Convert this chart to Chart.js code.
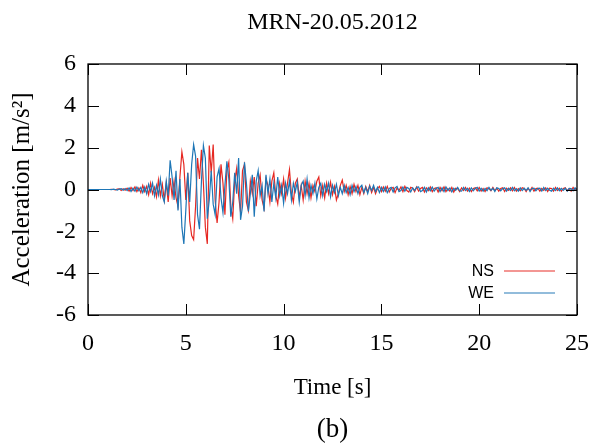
<!DOCTYPE html>
<html lang="en">
<head>
    <meta charset="UTF-8">
    <title>MRN-20.05.2012</title>
    <script src="https://cdn.jsdelivr.net/npm/chart.js"></script>
    <style>
        html, body { margin: 0; padding: 0; background: #fff; }
        #wrap { width: 592px; height: 446px; }
    </style>
</head>
<body>
    <div id="wrap"><canvas id="accChart" width="592" height="446"></canvas></div>

    <script>
    // sampling interval of the digitised records [s]
    const dt = 0.1;

    // NS component [m/s2], t = 0.0 ... 25.0 s
    const nsAcc = [
        0, 0, 0, 0, 0, 0, 0, 0, 0, 0,
        0, 0, 0.01, 0, -0.02, 0.02, 0.03, -0.05, 0.04, -0.03,
        0.06, -0.08, 0.1, -0.05, 0.12, -0.1, 0.08, -0.15, 0.2, -0.1,
        0.15, -0.25, 0.3, -0.2, 0.1, -0.35, 0.45, -0.3, 0.25, -0.5,
        0.3, -0.6, 0.55, -0.3, 0.4, -0.4, -0.8, 0.6, 1.8, 1.2,
        -0.5, 0.8, -1.5, -2.2, -2.4, -0.8, 1.5, 0.5, 1.9, 0.3,
        -1.8, -2.6, 2.1, 0.8, 2.15, -0.5, -1.6, -0.6, 1.2, 0.3,
        -1.2, 0.9, 1.3, -0.8, -1.4, 0.4, 1.0, -0.3, -1.1, 0.9,
        1.2, -0.6, -1.0, 0.4, -0.2, 0.6, -0.8, 0.3, 0.7, -0.5,
        -0.9, 0.5, 0.2, -0.6, 0.4, 0.8, -0.3, -0.7, 0.3, -0.2,
        0.5, -0.4, 0.3, 0.95, -0.2, -0.6, 0.3, 0.5, -0.4, 0.2,
        -0.5, 0.4, -0.2, 0.3, -0.4, 0.2, -0.1, 0.4, 0.6, -0.3,
        0.2, -0.4, 0.3, -0.2, 0.35, -0.25, 0.15, -0.5, -0.2, 0.2,
        0.45, -0.1, 0.2, -0.25, 0.15, -0.2, 0.25, -0.1, 0.2, -0.25,
        0.1, -0.2, 0.15, -0.1, 0.2, -0.15, 0.1, -0.2, 0.05, 0.15,
        -0.1,
        0.12, -0.08, 0.15, -0.12, 0.05, 0.1, -0.15, 0.08, -0.05, 0.12,
        -0.1, 0.15, -0.05, -0.12, 0.1, 0.06, -0.1, 0.12, -0.08, 0.05,
        0.1, -0.12, 0.08, -0.05, 0.12, -0.1, 0.05, 0.08, -0.12, 0.1,
        -0.06, 0.12, -0.1, 0.05, -0.08, 0.1, -0.12, 0.06, 0.04, -0.1,
        0.08, -0.05, 0.1, -0.08, 0.06, -0.1, 0.05, 0.08, -0.06, 0.1,
        -0.08, 0.05, -0.1, 0.08, 0.04, -0.06, 0.1, -0.05, 0.06, -0.08,
        0.05, 0.08, -0.1, 0.06, -0.04, 0.08, -0.06, 0.1, -0.08, 0.04,
        -0.06, 0.08, 0.05, -0.1, 0.06, -0.05, 0.1, -0.08, 0.04, 0.06,
        -0.08, 0.05, -0.04, 0.08, -0.1, 0.06, 0.05, -0.08, 0.1, -0.05,
        0.06, -0.08, 0.05, 0.08, -0.06, 0.04, -0.08, 0.1, -0.04, 0.05
    ];

    // WE component [m/s2], t = 0.0 ... 25.0 s
    const weAcc = [
        0, 0, 0, 0, 0, 0, 0, 0, 0, 0,
        0, 0, -0.01, 0.02, 0, -0.03, 0.02, 0.04, -0.03, 0.05,
        -0.05, 0.08, -0.1, 0.06, -0.08, 0.12, -0.06, 0.1, -0.15, 0.12,
        -0.2, 0.25, -0.1, 0.3, -0.3, 0.2, -0.25, 0.5, -0.3, -0.6,
        0.4, -0.3, 1.4, 0.6, -0.5, 0.9, -1.0, 0.5, -1.8, -2.6,
        -1.0, 0.8, -0.6, 1.2, 2.15, 1.6, -1.2, -1.9, 0.4, 2.1,
        1.5, -1.4, -0.5, 0.9, -0.7, -1.2, 0.6, 1.0, -0.4, -1.1,
        0.2, 1.35, 0.5, -1.3, -0.6, 0.8, -0.2, 1.5, -1.45, -0.8,
        1.3, 0.3, -1.05, -0.2, 0.7, -1.3, 0.4, 0.9, -0.3, 0.2,
        -1.05, 0.7, -0.2, 0.5, -0.6, 0.3, -0.4, 0.6, -0.3, 0.2,
        -0.65, 0.3, -0.2, 0.4, -0.5, 0.3, -0.1, 0.35, -0.6, 0.2,
        0.4, -0.3, 0.5, -0.4, 0.2, -0.2, 0.3, -0.45, 0.1, 0.3,
        -0.3, 0.25, -0.1, 0.3, -0.35, 0.2, -0.15, 0.25, -0.3, 0.1,
        -0.2, 0.2, -0.15, 0.1, -0.25, 0.2, -0.1, 0.15, -0.2, 0.1,
        0.2, -0.15, 0.1, -0.2, 0.15, -0.05, 0.2, -0.1, 0.1, -0.15,
        0.1,
        -0.1, 0.12, -0.15, 0.05, 0.1, -0.12, 0.08, 0.15, -0.1, -0.05,
        0.12, -0.08, 0.1, 0.05, -0.12, 0.08, -0.05, 0.1, 0.12, -0.1,
        -0.05, 0.1, -0.12, 0.08, -0.06, 0.12, -0.08, 0.05, 0.1, -0.1,
        0.08, -0.1, 0.12, -0.05, 0.08, -0.12, 0.06, -0.04, 0.1, -0.06,
        -0.08, 0.1, -0.05, 0.06, -0.1, 0.08, -0.06, 0.05, 0.1, -0.08,
        0.06, -0.08, 0.05, -0.06, 0.1, -0.04, 0.06, -0.1, 0.08, 0.05,
        -0.06, 0.04, 0.08, -0.08, 0.06, -0.05, 0.1, -0.06, 0.04, -0.08,
        0.08, -0.05, 0.06, -0.04, 0.08, -0.1, 0.05, 0.06, -0.06, 0.04,
        0.06, -0.08, 0.1, -0.05, 0.06, -0.04, -0.08, 0.06, -0.05, 0.08,
        -0.06, 0.05, -0.04, 0.06, -0.08, 0.05, 0.04, -0.06, 0.08, -0.04
    ];

    const xTicks = [0, 5, 10, 15, 20, 25];
    const yTicks = [-6, -4, -2, 0, 2, 4, 6];

    const nsColor = 'rgb(230,40,34)';
    const weColor = 'rgb(30,118,182)';
    const serif = '"Liberation Serif", "Times New Roman", serif';
    const toPoints = arr => arr.map((v, i) => ({ x: Math.round(i * dt * 10) / 10, y: v }));

    // gnuplot-like frame with inward ticks + legend inside the plot
    const framePlugin = {
        id: 'frame',
        afterLayout(chart) {
            // centre title and caption over the plot area, not the canvas
            const a = chart.chartArea;
            chart.boxes.forEach(b => {
                if (!b.axis && b.options && b.options.text && (b.position === 'top' || b.position === 'bottom')) {
                    b.left = a.left;
                    b.right = a.right;
                }
            });
        },
        afterDraw(chart) {
            const { ctx, chartArea: a, scales } = chart;
            const tl = 11;
            ctx.save();
            ctx.strokeStyle = '#000';
            ctx.lineWidth = 1.3;
            ctx.strokeRect(a.left, a.top, a.right - a.left, a.bottom - a.top);
            ctx.lineWidth = 1;
            ctx.beginPath();
            xTicks.forEach(v => {
                const px = Math.round(scales.x.getPixelForValue(v)) + 0.5;
                ctx.moveTo(px, a.bottom); ctx.lineTo(px, a.bottom - tl);
                ctx.moveTo(px, a.top); ctx.lineTo(px, a.top + tl);
            });
            yTicks.forEach(v => {
                const py = Math.round(scales.y.getPixelForValue(v)) + 0.5;
                ctx.moveTo(a.left, py); ctx.lineTo(a.left + tl, py);
                ctx.moveTo(a.right, py); ctx.lineTo(a.right - tl, py);
            });
            ctx.stroke();

            // legend
            const entries = [['NS', nsColor], ['WE', weColor]];
            ctx.font = '16px "Liberation Sans", Arial, sans-serif';
            ctx.textAlign = 'right';
            ctx.textBaseline = 'middle';
            entries.forEach(([label, color], k) => {
                const y = Math.round(a.bottom - 44 + k * 22);
                ctx.fillStyle = '#000';
                ctx.fillText(label, a.right - 83, y + 1);
                ctx.strokeStyle = color;
                ctx.lineWidth = 1.4;
                ctx.globalAlpha = 0.65;
                ctx.beginPath();
                ctx.moveTo(a.right - 73, y);
                ctx.lineTo(a.right - 22, y);
                ctx.stroke();
                ctx.globalAlpha = 1;
            });
            ctx.restore();
        }
    };

    new Chart(document.getElementById('accChart'), {
        type: 'line',
        data: {
            datasets: [
                {
                    label: 'WE',
                    data: toPoints(weAcc),
                    borderColor: weColor,
                    borderWidth: 1.2,
                    pointRadius: 0,
                    tension: 0,
                    order: 0
                },
                {
                    label: 'NS',
                    data: toPoints(nsAcc),
                    borderColor: nsColor,
                    borderWidth: 1.2,
                    pointRadius: 0,
                    tension: 0,
                    order: 1
                }
            ]
        },
        options: {
            responsive: false,
            animation: false,
            layout: { padding: { left: 0, right: 15, top: 0, bottom: 0 } },
            plugins: {
                legend: { display: false },
                tooltip: { enabled: false },
                title: {
                    display: true,
                    text: 'MRN-20.05.2012',
                    color: '#000',
                    font: { family: serif, size: 24, weight: 'normal' },
                    padding: { top: 8.6, bottom: 26.6 }
                },
                subtitle: {
                    display: true,
                    position: 'bottom',
                    text: '(b)',
                    color: '#000',
                    font: { family: serif, size: 27, weight: 'normal' },
                    padding: { top: 0, bottom: 0 }
                }
            },
            scales: {
                x: {
                    type: 'linear',
                    min: 0,
                    max: 25,
                    afterFit: s => { s.height = 98.6; s.paddingLeft = 0; s.paddingRight = 0; },
                    afterBuildTicks: s => { s.ticks = xTicks.map(v => ({ value: v })); },
                    grid: { display: false, drawTicks: false },
                    border: { display: false },
                    ticks: { color: '#000', padding: 14, maxRotation: 0,
                             font: { family: serif, size: 24 } },
                    title: {
                        display: true,
                        text: 'Time [s]',
                        color: '#000',
                        font: { family: serif, size: 23 },
                        padding: { top: 0, bottom: 11.8 }
                    }
                },
                y: {
                    type: 'linear',
                    min: -6,
                    max: 6,
                    afterFit: s => { s.width = 88; s.paddingTop = 0; s.paddingBottom = 0; },
                    afterBuildTicks: s => { s.ticks = yTicks.map(v => ({ value: v })); },
                    grid: { display: false, drawTicks: false },
                    border: { display: false },
                    ticks: { color: '#000', padding: 12,
                             font: { family: serif, size: 24 } },
                    title: {
                        display: true,
                        text: 'Acceleration [m/s²]',
                        color: '#000',
                        font: { family: serif, size: 25 },
                        padding: { top: 7, bottom: 0 }
                    }
                }
            }
        },
        plugins: [framePlugin]
    });
    </script>
</body>
</html>
